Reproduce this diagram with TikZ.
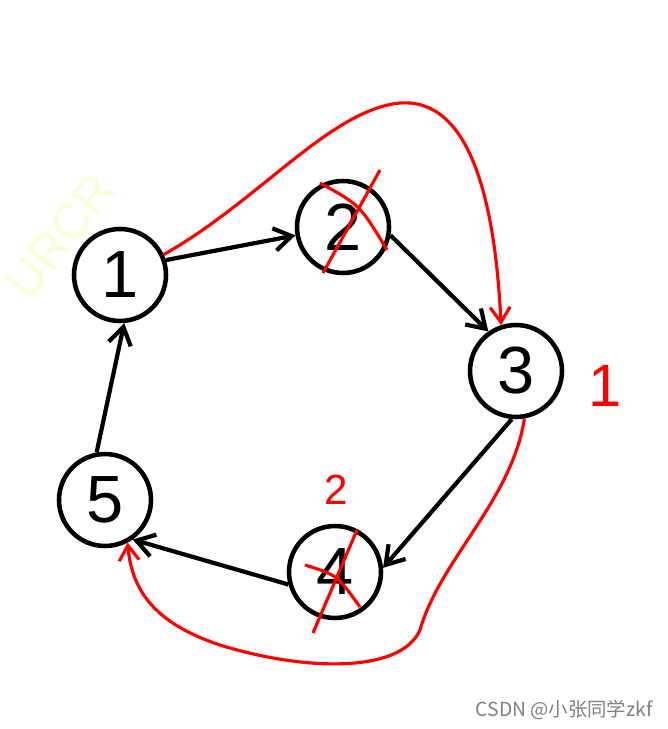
\documentclass[tikz,border=0pt]{standalone}
\usepackage{fontspec}
\setmainfont{Liberation Sans}
\newfontfamily\cjkfont{Noto Sans CJK SC}
\usepackage{tikz}
\usetikzlibrary{arrows.meta, positioning}

\begin{document}
\begin{tikzpicture}[
  x=0.02cm, y=-0.02cm,
  vertex/.style={draw, circle, line width=2.6pt, minimum size=1.84cm, inner sep=0pt,
                 font=\fontsize{38}{38}\selectfont},
  arrow/.style={-{Straight Barb[length=3.5mm, width=4.5mm]}, line width=2.4pt},
  red_arrow/.style={-{Straight Barb[length=3mm, width=4mm]}, line width=1.8pt, red},
  cross/.style={line width=1.8pt, red},
  mark_label/.style={text=red},
]
\useasboundingbox (0,0) rectangle (667,729);

% ---- faint watermark ----
\node[rotate=52, text={rgb,255:red,246;green,255;blue,214}, font=\fontsize{28}{28}\selectfont] (wm) at (60,236) {URCR};

% ---- vertices ----
\node[vertex] (n1) at (120,275) {1};
\node[vertex] (n2) at (343,227) {2};
\node[vertex] (n3) at (516,371) {3};
\node[vertex] (n4) at (335,572) {4};
\node[vertex] (n5) at (105,500) {5};

% ---- black edges ----
\draw[arrow] (n1.18) -- (n2.190);
\draw[arrow] (n2.-10) -- (n3.125);
\draw[arrow] (n3.-95) -- (n4.5);
\draw[arrow] (n4.195) -- (n5.-55);
\draw[arrow] (n5.100) -- (n1.-85);

% ---- crossed out ----
\draw[cross] (380,170) -- (323,273);
\draw[cross] (320,183) .. controls (360,205) .. (387,250);
\draw[cross] (357,530) -- (313,633);
\draw[cross] (305,565) .. controls (337,575) .. (360,607);

% ---- red paths ----
\draw[red_arrow] (n1.25) .. controls (260,200) and (330,110) .. (400,103)
  .. controls (470,98) and (495,200) .. (n3.108);
\draw[red_arrow] (n3.-80) .. controls (512,500) and (440,560) .. (420,630)
  .. controls (400,675) and (300,670) .. (220,645)
  .. controls (160,625) and (132,595) .. (n5.-62);

\node[mark_label, font=\fontsize{34}{34}\selectfont] (m1) at (605,386) {1};
\node[mark_label, font=\fontsize{24}{24}\selectfont] (m2) at (336,490) {2};

% ---- credit ----
\node[text=gray, font=\cjkfont\fontsize{11}{11}\selectfont] (credit) at (564,710) {CSDN @小张同学zkf};
\end{tikzpicture}
\end{document}
